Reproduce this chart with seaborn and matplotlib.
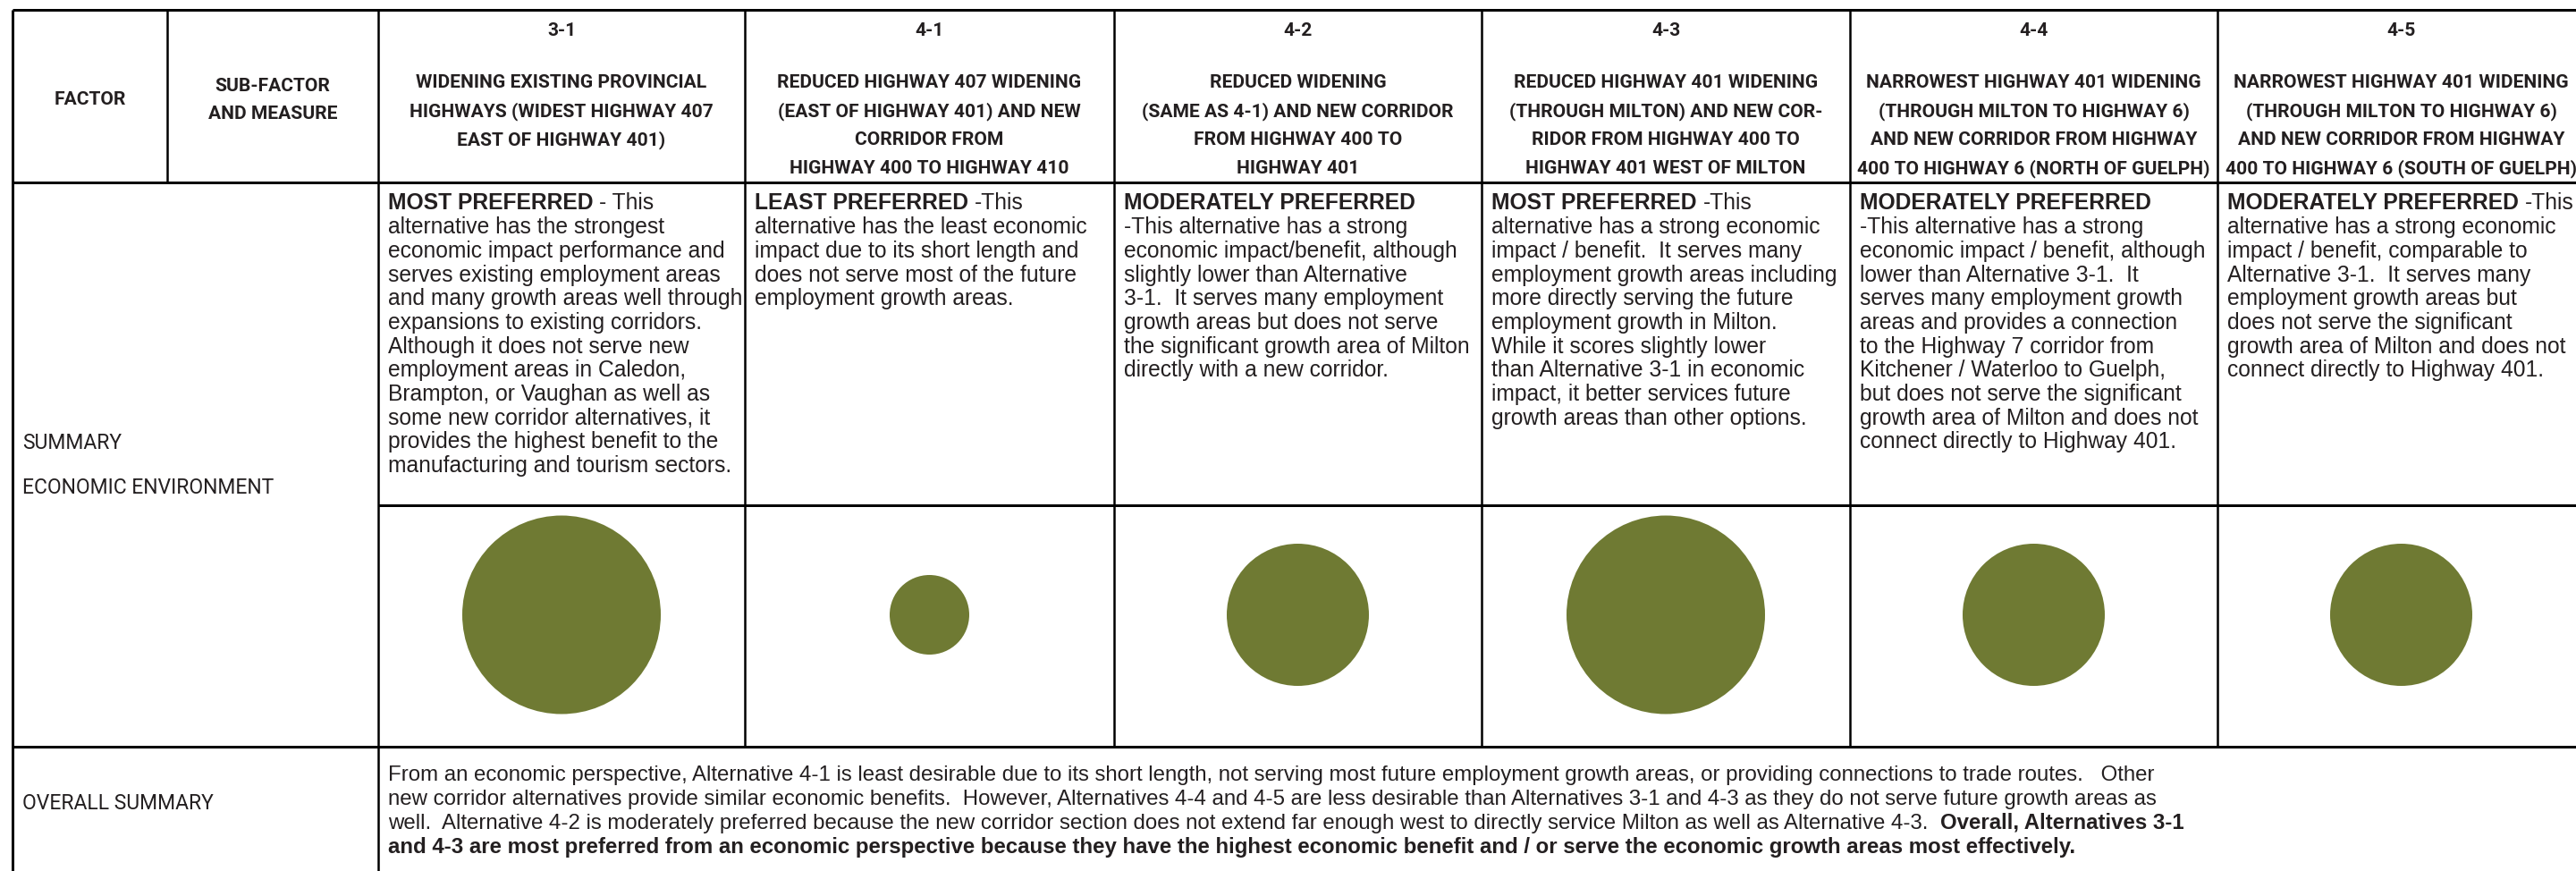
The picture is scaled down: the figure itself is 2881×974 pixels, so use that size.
import numpy as np
import pandas as pd
import matplotlib
matplotlib.use("Agg")
import matplotlib.pyplot as plt
from matplotlib import font_manager
from matplotlib.font_manager import FontProperties
import seaborn as sns

# ---------------- data ----------------
alt_ids = ["3-1", "4-1", "4-2", "4-3", "4-4", "4-5"]

alt_titles = [
    ["WIDENING EXISTING PROVINCIAL", "HIGHWAYS (WIDEST HIGHWAY 407", "EAST OF HIGHWAY 401)"],
    ["REDUCED HIGHWAY 407 WIDENING", "(EAST OF HIGHWAY 401) AND NEW", "CORRIDOR FROM", "HIGHWAY 400 TO HIGHWAY 410"],
    ["REDUCED WIDENING", "(SAME AS 4-1) AND NEW CORRIDOR", "FROM HIGHWAY 400 TO", "HIGHWAY 401"],
    ["REDUCED HIGHWAY 401 WIDENING", "(THROUGH MILTON) AND NEW COR-", "RIDOR FROM HIGHWAY 400 TO", "HIGHWAY 401 WEST OF MILTON"],
    ["NARROWEST HIGHWAY 401 WIDENING", "(THROUGH MILTON TO HIGHWAY 6)", "AND NEW CORRIDOR FROM HIGHWAY", "400 TO HIGHWAY 6 (NORTH OF GUELPH)"],
    ["NARROWEST HIGHWAY 401 WIDENING", "(THROUGH MILTON TO HIGHWAY 6)", "AND NEW CORRIDOR FROM HIGHWAY", "400 TO HIGHWAY 6 (SOUTH OF GUELPH)"],
]

preference = ["MOST PREFERRED", "LEAST PREFERRED", "MODERATELY PREFERRED",
              "MOST PREFERRED", "MODERATELY PREFERRED", "MODERATELY PREFERRED"]
first_line_tail = ["- This", "-This", "", "-This", "", "-This"]

summary_lines = [
    ["alternative has the strongest",
     "economic impact performance and",
     "serves existing employment areas",
     "and many growth areas well through",
     "expansions to existing corridors.",
     "Although it does not serve new",
     "employment areas in Caledon,",
     "Brampton, or Vaughan as well as",
     "some new corridor alternatives, it",
     "provides the highest benefit to the",
     "manufacturing and tourism sectors."],
    ["alternative has the least economic",
     "impact due to its short length and",
     "does not serve most of the future",
     "employment growth areas."],
    ["-This alternative has a strong",
     "economic impact/benefit, although",
     "slightly lower than Alternative",
     "3-1.  It serves many employment",
     "growth areas but does not serve",
     "the significant growth area of Milton",
     "directly with a new corridor."],
    ["alternative has a strong economic",
     "impact / benefit.  It serves many",
     "employment growth areas including",
     "more directly serving the future",
     "employment growth in Milton.",
     "While it scores slightly lower",
     "than Alternative 3-1 in economic",
     "impact, it better services future",
     "growth areas than other options."],
    ["-This alternative has a strong",
     "economic impact / benefit, although",
     "lower than Alternative 3-1.  It",
     "serves many employment growth",
     "areas and provides a connection",
     "to the Highway 7 corridor from",
     "Kitchener / Waterloo to Guelph,",
     "but does not serve the significant",
     "growth area of Milton and does not",
     "connect directly to Highway 401."],
    ["alternative has a strong economic",
     "impact / benefit, comparable to",
     "Alternative 3-1.  It serves many",
     "employment growth areas but",
     "does not serve the significant",
     "growth area of Milton and does not",
     "connect directly to Highway 401."],
]

# preference score shown by circle size (3 = most, 2 = moderately, 1 = least)
preference_score = [3, 1, 2, 3, 2, 2]

factor_header = ["FACTOR"]
subfactor_header = ["SUB-FACTOR", "AND MEASURE"]
row_labels = ["SUMMARY", "ECONOMIC ENVIRONMENT"]
overall_label = "OVERALL SUMMARY"

overall_runs = [
    [("From an economic perspective, Alternative 4-1 is least desirable due to its short length, not serving most future employment growth areas, or providing connections to trade routes.   Other", False)],
    [("new corridor alternatives provide similar economic benefits.  However, Alternatives 4-4 and 4-5 are less desirable than Alternatives 3-1 and 4-3 as they do not serve future growth areas as", False)],
    [("well.  Alternative 4-2 is moderately preferred because the new corridor section does not extend far enough west to directly service Milton as well as Alternative 4-3.", False),
     ("Overall, Alternatives 3-1", True)],
    [("and 4-3 are most preferred from an economic perspective because they have the highest economic benefit and / or serve the economic growth areas most effectively.", True)],
]

# ---------------- layout / style ----------------
W, H, DPI = 2881, 974, 100
INK = "#231f20"
OLIVE = "#6f7a33"

col_edges = [423, 833, 1246, 1657, 2069, 2480, 2891]
left_x, factor_split = 14, 187
y_top, y_head, y_mid, y_row, y_bot = 11, 204, 565, 835, 974
circle_y = 687.5
circle_diam_px = {1: 89, 2: 159, 3: 222}

sns.set_theme(style="white")
names = {f.name for f in font_manager.fontManager.ttflist}


def pick(*cands):
    for c in cands:
        if c in names:
            return c
    return "DejaVu Sans"


BODY_FONT = pick("Liberation Sans", "Arimo", "DejaVu Sans")
HEAD_FP = FontProperties(family=pick("Roboto", "Liberation Sans"), weight="semibold")
LABEL_FP = FontProperties(family=pick("Roboto", "Lato", "Open Sans", "DejaVu Sans"), weight="normal")
plt.rcParams["font.family"] = [BODY_FONT, "DejaVu Sans"]

fig = plt.figure(figsize=(W / DPI, H / DPI), dpi=DPI)
ax = fig.add_axes([0, 0, 1, 1])
ax.set_xlim(0, W)
ax.set_ylim(H, 0)
ax.axis("off")
renderer = fig.canvas.get_renderer()


def text_width(text, fp, size):
    p = fp.copy()
    p.set_size(size)
    t = fig.text(0, 0, text, fontproperties=p)
    w = t.get_window_extent(renderer).width
    t.remove()
    return w


def fit_size(text, fp, target_px, ref=20.0):
    return ref * target_px / text_width(text, fp, ref)


BODY_FP = FontProperties(family=BODY_FONT, weight="normal")
BODY_BOLD_FP = FontProperties(family=BODY_FONT, weight="bold")

BODY_SIZE = min(fit_size("economic impact performance and", BODY_FP, 383),
                fit_size("and many growth areas well through", BODY_FP, 396))
OVER_SIZE = fit_size(overall_runs[0][0][0], BODY_FP, 1975)
HEAD_SIZE = min(fit_size("WIDENING EXISTING PROVINCIAL", HEAD_FP, 337),
                fit_size("400 TO HIGHWAY 6 (NORTH OF GUELPH)", HEAD_FP, 392))
LABEL_SIZE = fit_size("ECONOMIC ENVIRONMENT", LABEL_FP, 282)


def space_width(size):
    return text_width("a a", BODY_FP, size) - text_width("aa", BODY_FP, size)


def draw_runs(x, y, runs, size, gap_spaces=1):
    sp = space_width(size)
    for txt, bold in runs:
        if not txt:
            continue
        p = (BODY_BOLD_FP if bold else BODY_FP).copy()
        p.set_size(size)
        t = ax.text(x, y, txt, fontproperties=p, color=INK, ha="left", va="baseline")
        bb = t.get_window_extent(renderer)
        x = ax.transData.inverted().transform((bb.x1, bb.y0))[0] + sp * gap_spaces


# ---------------- grid lines ----------------
thick = 3 * 72 / DPI
thin = 2.5 * 72 / DPI
ax.hlines([y_top, y_head, y_row], left_x, W, color="black", lw=thick)
ax.hlines(y_mid, col_edges[0], W, color="black", lw=thick)
ax.vlines(left_x, y_top, y_bot, color="black", lw=thick)
ax.vlines(factor_split, y_top, y_head, color="black", lw=thin)
ax.vlines(col_edges[0], y_top, y_bot, color="black", lw=thin)
ax.vlines(col_edges[1:-1], y_top, y_row, color="black", lw=thin)

# ---------------- header ----------------
hfp = HEAD_FP.copy()
hfp.set_size(HEAD_SIZE)
hkw = dict(fontproperties=hfp, color=INK, ha="center", va="baseline")
ax.text((left_x + factor_split) / 2, 117, factor_header[0], **hkw)
for i, line in enumerate(subfactor_header):
    ax.text((factor_split + col_edges[0]) / 2, 102 + 31 * i, line, **hkw)

centers = [(a + b) / 2 for a, b in zip(col_edges[:-1], col_edges[1:])]
for cx, aid, title in zip(centers, alt_ids, alt_titles):
    ax.text(cx, 40, aid, **hkw)
    for j, line in enumerate(title):
        ax.text(cx, 98.5 + 32 * j, line, **hkw)

# ---------------- summary text ----------------
base0, step = 234.5, 26.7
bfp = BODY_FP.copy()
bfp.set_size(BODY_SIZE)
for k in range(len(alt_ids)):
    x0 = col_edges[k] + 11
    draw_runs(x0, base0, [(preference[k], True), (first_line_tail[k], False)], BODY_SIZE)
    for j, line in enumerate(summary_lines[k]):
        ax.text(x0, base0 + step * (j + 1), line, fontproperties=bfp,
                color=INK, ha="left", va="baseline")

# ---------------- row labels ----------------
lfp = LABEL_FP.copy()
lfp.set_size(LABEL_SIZE)
lkw = dict(fontproperties=lfp, color=INK, ha="left", va="baseline")
ax.text(25, 502, row_labels[0], **lkw)
ax.text(25, 552, row_labels[1], **lkw)
ax.text(25, 905, overall_label, **lkw)

# ---------------- preference circles ----------------
df = pd.DataFrame({"x": centers, "y": [circle_y] * len(centers),
                   "score": preference_score})
sizes = {k: (d * 72 / DPI) ** 2 for k, d in circle_diam_px.items()}
sns.scatterplot(data=df, x="x", y="y", size="score", sizes=sizes,
                color=OLIVE, linewidth=0, legend=False, ax=ax, zorder=3)
ax.set_xlim(0, W)
ax.set_ylim(H, 0)
ax.axis("off")

# ---------------- overall summary ----------------
for j, runs in enumerate(overall_runs):
    draw_runs(col_edges[0] + 11, 873 + 27 * j, runs, OVER_SIZE, gap_spaces=2)

fig.savefig("out.png", dpi=DPI, facecolor="white")
